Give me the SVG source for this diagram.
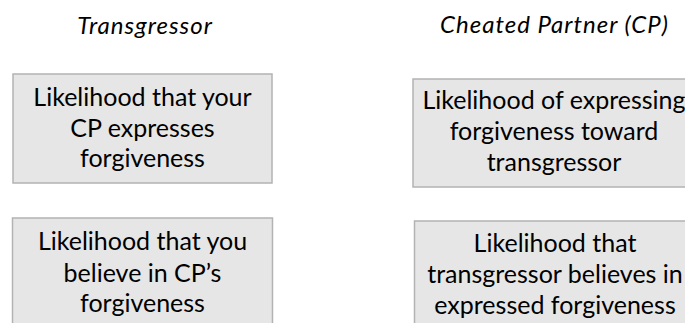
<svg xmlns="http://www.w3.org/2000/svg" width="685" height="323" viewBox="0 0 685 323">
<style>
.box{fill:#e6e6e6;stroke:#b3b3b3;stroke-width:1.5}
.t{font-family:Lato,"Liberation Sans",sans-serif;font-size:25px;fill:#000;text-anchor:middle}
.h{font-family:Lato,"Liberation Sans",sans-serif;font-size:24px;letter-spacing:1px;font-style:italic;fill:#000;text-anchor:middle}
</style>
<rect width="685" height="323" fill="#fff"/>
<g id="header-transgressor"><text class="h" x="145" y="34">Transgressor</text></g>
<g id="header-cp"><text class="h" x="554.5" y="33">Cheated Partner (CP)</text></g>
<g id="node-t1">
<rect class="box" x="13" y="74" width="259" height="109"/>
<text class="t" x="142.5" y="105.5">Likelihood that your</text>
<text class="t" x="142.5" y="137">CP expresses</text>
<text class="t" x="142.5" y="167">forgiveness</text>
</g>
<g id="node-cp1">
<rect class="box" x="413" y="79" width="282" height="108"/>
<text class="t" x="554" y="108.5">Likelihood of expressing</text>
<text class="t" x="554" y="140">forgiveness toward</text>
<text class="t" x="554" y="171">transgressor</text>
</g>
<g id="node-t2">
<rect class="box" x="12.5" y="218" width="260" height="120"/>
<text class="t" x="142.5" y="249.5">Likelihood that you</text>
<text class="t" x="142.5" y="281.5">believe in CP’s</text>
<text class="t" x="142.5" y="311.5">forgiveness</text>
</g>
<g id="node-cp2">
<rect class="box" x="414.5" y="221" width="282" height="120"/>
<text class="t" x="555" y="251.5">Likelihood that</text>
<text class="t" x="555" y="283">transgressor believes in</text>
<text class="t" x="555" y="314">expressed forgiveness</text>
</g>
<g id="connectors"></g>
</svg>
